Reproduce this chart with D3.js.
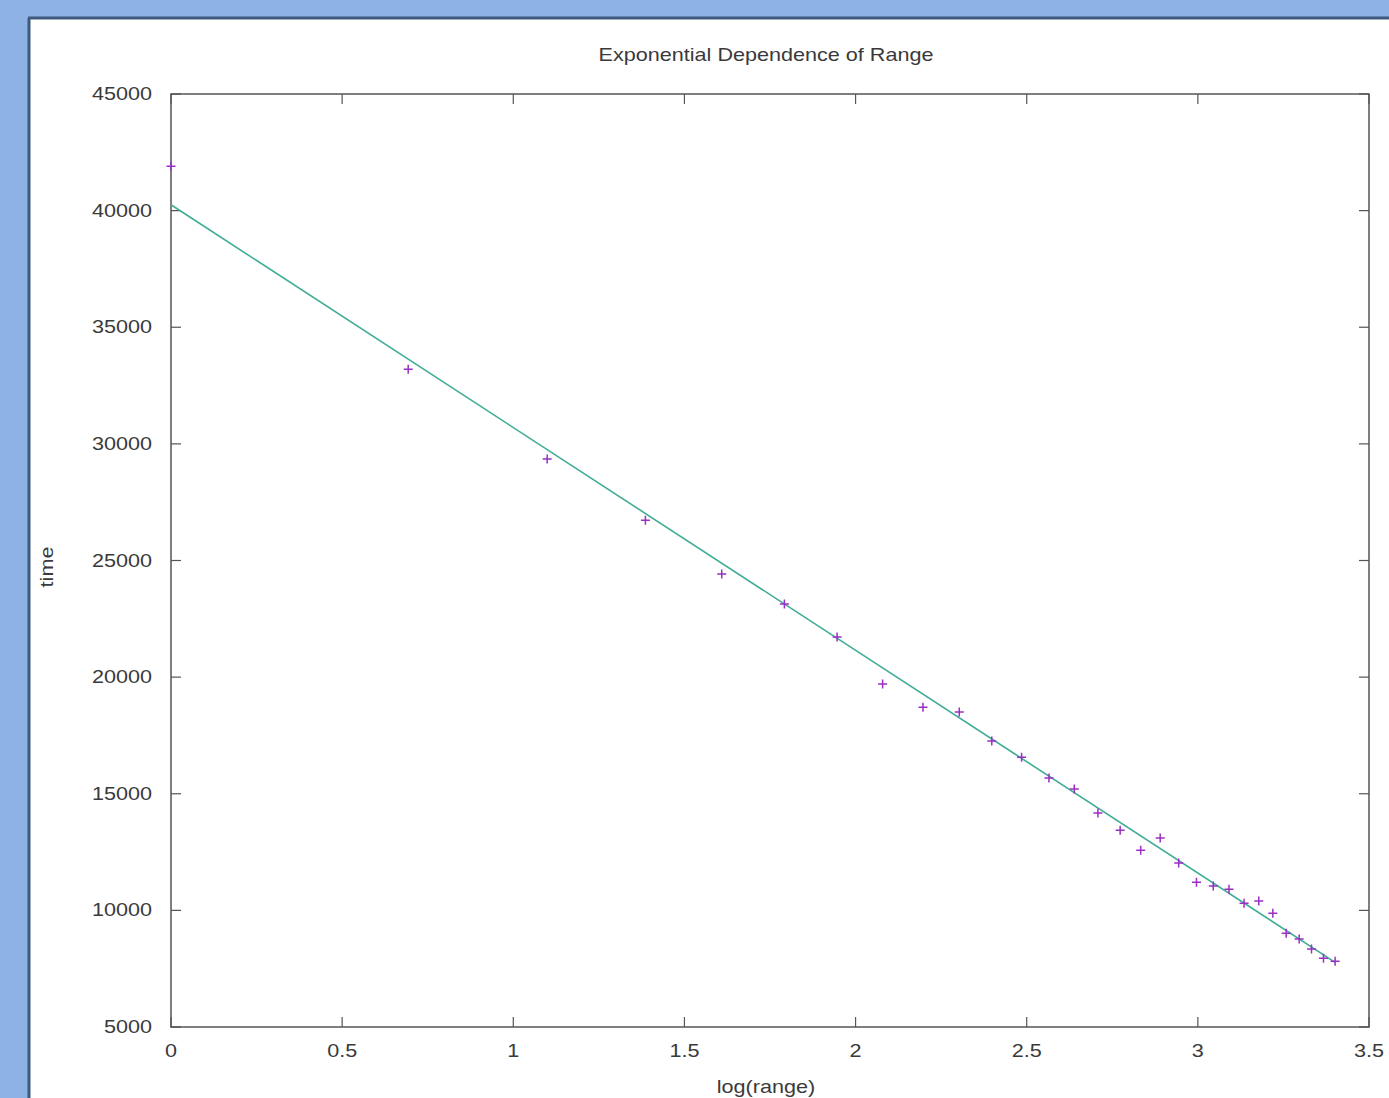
<!DOCTYPE html>
<html>
<head>
<meta charset="utf-8">
<script src="https://cdn.jsdelivr.net/npm/d3@7"></script>
<style>
  html, body { margin: 0; padding: 0; background: #8db2e3; }
  svg { display: block; }
  text { font-family: "Liberation Sans", Arial, sans-serif; fill: #3a3a3a; }
</style>
</head>
<body>
<svg id="chart" width="1389" height="1098"></svg>
<script>
// ---- data ----
const logRange = [0, 0.693, 1.099, 1.386, 1.609, 1.792, 1.946, 2.079, 2.197, 2.303,
  2.398, 2.485, 2.565, 2.639, 2.708, 2.773, 2.833, 2.890, 2.944, 2.996,
  3.045, 3.091, 3.135, 3.178, 3.219, 3.258, 3.296, 3.332, 3.367, 3.401];
const timeValues = [41900, 33200, 29350, 26730, 24420, 23130, 21720, 19700, 18710, 18500,
  17260, 16570, 15670, 15200, 14170, 13440, 12580, 13100, 12030, 11210,
  11040, 10910, 10310, 10400, 9880, 9020, 8770, 8340, 7950, 7820];
const fitIntercept = 40250;
const fitSlope = -9550;
const fitRange = [0, 3.401];
const xTicks = [0, 0.5, 1, 1.5, 2, 2.5, 3, 3.5];
const xTickLabels = ["0", "0.5", "1", "1.5", "2", "2.5", "3", "3.5"];
const yTicks = [5000, 10000, 15000, 20000, 25000, 30000, 35000, 40000, 45000];
const yTickLabels = ["5000", "10000", "15000", "20000", "25000", "30000", "35000", "40000", "45000"];
const title = "Exponential Dependence of Range";
const xLabel = "log(range)";
const yLabel = "time";

// ---- layout ----
const svg = d3.select("#chart");
const plot = { left: 171, right: 1369, top: 94, bottom: 1027 };
const SX = 1.2; // horizontal text stretch seen in reference
const FS = 18;

// window panel
svg.append("rect").attr("x", 30).attr("y", 19).attr("width", 1389 - 30).attr("height", 1098 - 19)
  .attr("fill", "#ffffff");
svg.append("line").attr("x1", 29).attr("x2", 29).attr("y1", 18).attr("y2", 1098)
  .attr("stroke", "#3d5a7e").attr("stroke-width", 3);
svg.append("line").attr("x1", 28).attr("x2", 1389).attr("y1", 18).attr("y2", 18)
  .attr("stroke", "#3d5a7e").attr("stroke-width", 3);

const x = d3.scaleLinear().domain([0, 3.5]).range([plot.left, plot.right]);
const y = d3.scaleLinear().domain([5000, 45000]).range([plot.bottom, plot.top]);

function stretchedText(g, tx, ty, str, anchor, rot) {
  return g.append("text")
    .attr("transform", `translate(${tx},${ty})` + (rot ? ` rotate(${rot})` : "") + ` scale(${SX},1)`)
    .attr("text-anchor", anchor)
    .attr("font-size", FS)
    .text(str);
}

const axisColor = "#555";
const tickLen = 10;

// frame
svg.append("rect")
  .attr("x", plot.left).attr("y", plot.top)
  .attr("width", plot.right - plot.left).attr("height", plot.bottom - plot.top)
  .attr("fill", "none").attr("stroke", axisColor).attr("stroke-width", 1.5);

// x ticks (bottom and mirrored top)
const gx = svg.append("g");
xTicks.forEach((t, i) => {
  const px = x(t);
  gx.append("line").attr("x1", px).attr("x2", px).attr("y1", plot.bottom).attr("y2", plot.bottom - tickLen)
    .attr("stroke", axisColor).attr("stroke-width", 1.2);
  gx.append("line").attr("x1", px).attr("x2", px).attr("y1", plot.top).attr("y2", plot.top + tickLen)
    .attr("stroke", axisColor).attr("stroke-width", 1.2);
  stretchedText(gx, px, 1057, xTickLabels[i], "middle");
});

// y ticks (left and mirrored right)
const gy = svg.append("g");
yTicks.forEach((t, i) => {
  const py = y(t);
  gy.append("line").attr("x1", plot.left).attr("x2", plot.left + tickLen).attr("y1", py).attr("y2", py)
    .attr("stroke", axisColor).attr("stroke-width", 1.2);
  gy.append("line").attr("x1", plot.right).attr("x2", plot.right - tickLen).attr("y1", py).attr("y2", py)
    .attr("stroke", axisColor).attr("stroke-width", 1.2);
  stretchedText(gy, 152, py + 6, yTickLabels[i], "end");
});

// titles
stretchedText(svg, 766, 61, title, "middle");
stretchedText(svg, 766, 1093, xLabel, "middle");
stretchedText(svg, 53, 567, yLabel, "middle", -90);

// fit line
const line = d3.line().x(d => x(d)).y(d => y(fitIntercept + fitSlope * d));
svg.append("path")
  .attr("d", line(fitRange))
  .attr("fill", "none")
  .attr("stroke", "#40ad96")
  .attr("stroke-width", 1.6);

// data points as "+"
const pts = svg.append("g");
const r = 4.5;
logRange.forEach((lx, i) => {
  const px = x(lx), py = y(timeValues[i]);
  pts.append("path")
    .attr("d", `M${px - r},${py}H${px + r}M${px},${py - r}V${py + r}`)
    .attr("stroke", "#9a2fc4")
    .attr("stroke-width", 1.5)
    .attr("fill", "none");
});
</script>
</body>
</html>
